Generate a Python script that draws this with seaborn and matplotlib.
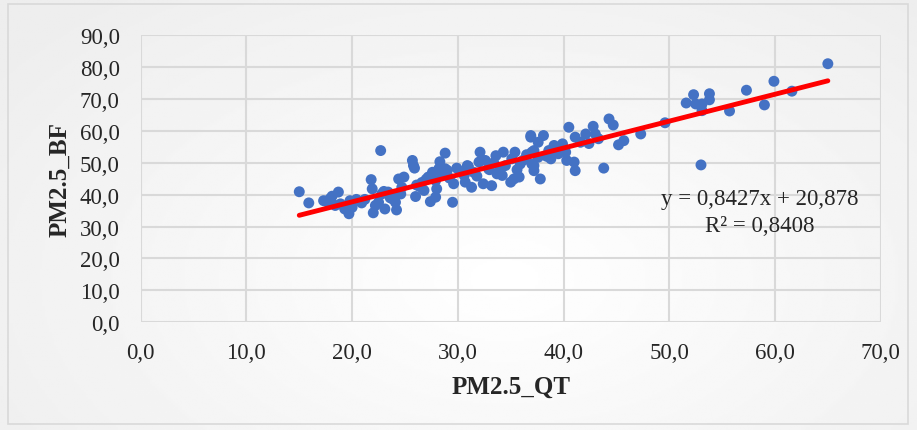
import numpy as np
import pandas as pd
import matplotlib
matplotlib.use("Agg")
import matplotlib.pyplot as plt
import seaborn as sns

# Data
pm_qt = [15.0, 15.9, 17.3, 17.9, 18.7, 18.4, 18.9, 19.3, 19.7, 19.8, 20.0, 20.9,
         21.8, 21.9, 22.2, 22.0, 22.5, 22.7, 22.8, 23.1, 23.4, 23.8, 24.1, 24.2,
         24.4, 24.9, 24.7, 24.6, 25.8, 25.7, 25.9, 26.0, 28.3, 28.2, 27.6, 28.8,
         27.2, 27.9, 26.8, 28.0, 26.1, 27.4, 27.9, 29.5, 29.6, 29.9, 30.6, 30.9,
         30.7, 31.3, 31.5, 32.0, 32.1, 32.6, 32.4, 33.2, 32.9, 33.6, 34.3, 33.7,
         34.2, 34.5, 35.1, 35.4, 35.0, 35.8, 35.3, 35.9, 36.9, 37.0, 37.2, 28.8,
         37.8, 36.9, 38.1, 37.6, 37.2, 37.6, 37.0, 37.2, 38.8, 39.1, 39.9, 39.1,
         40.2, 39.5, 40.3, 41.0, 41.1, 40.5, 41.1, 41.6, 42.1, 42.8, 43.0, 43.3,
         43.8, 44.3, 44.7, 45.2, 45.7, 47.3, 49.6, 51.6, 52.3, 52.5, 53.1, 53.8,
         53.8, 53.1, 53.0, 55.7, 57.3, 59.0, 59.9, 61.6, 65.0, 17.6, 18.1, 21.2,
         23.6, 26.4, 27.0, 28.5, 29.2, 30.3, 31.8, 33.0, 34.0, 36.2, 38.4, 23.0,
         20.4, 24.0, 26.6, 29.0, 31.0, 33.4, 35.6, 36.5, 38.6, 42.4]
pm_bf = [40.9, 37.4, 38.1, 38.7, 40.8, 36.6, 37.1, 35.5, 34.0, 38.1, 36.0, 37.4,
         44.7, 41.8, 36.6, 34.3, 37.6, 53.8, 40.2, 35.5, 40.8, 38.7, 37.6, 35.2,
         44.9, 45.5, 42.3, 40.2, 49.1, 50.7, 48.3, 39.4, 50.3, 48.1, 47.0, 48.1,
         45.5, 44.4, 41.3, 41.8, 43.0, 37.8, 39.2, 37.6, 43.4, 48.3, 46.0, 49.1,
         43.9, 42.3, 47.0, 50.2, 53.3, 50.7, 43.4, 42.8, 48.1, 52.2, 53.3, 46.5,
         46.0, 49.1, 51.2, 53.3, 43.9, 45.5, 44.9, 49.6, 58.5, 53.3, 49.1, 53.0,
         44.9, 58.0, 58.5, 56.4, 53.8, 51.7, 49.6, 47.5, 51.2, 54.3, 55.9, 55.4,
         53.3, 52.8, 50.7, 50.2, 47.5, 61.1, 58.0, 56.4, 59.0, 61.4, 59.0, 57.5,
         48.3, 63.7, 61.8, 55.6, 56.9, 59.0, 62.5, 68.7, 71.3, 68.4, 68.4, 71.6,
         69.7, 66.3, 49.3, 66.2, 72.7, 68.1, 75.5, 72.4, 81.0, 37.8, 39.5, 38.5,
         39.0, 42.5, 44.8, 46.5, 45.2, 47.2, 45.8, 47.8, 48.5, 50.8, 52.0, 41.0,
         38.5, 39.8, 43.8, 47.6, 48.8, 50.0, 47.8, 52.5, 53.8, 56.0]

slope = 0.8427
intercept = 20.878
eq_lines = ["y = 0,8427x + 20,878", "R² = 0,8408"]
x_ticks = [0, 10, 20, 30, 40, 50, 60, 70]
y_ticks = [0, 10, 20, 30, 40, 50, 60, 70, 80, 90]

df = pd.DataFrame({"PM2.5_QT": pm_qt, "PM2.5_BF": pm_bf})

sns.set_theme(style="white")
plt.rcParams['font.family'] = ['Liberation Serif', 'DejaVu Serif']

W, H = 917, 431
fig = plt.figure(figsize=(W / 100, H / 100), dpi=100)

# background gradient
bg = fig.add_axes([0, 0, 1, 1], zorder=-10)
yy, xx = np.mgrid[0:1:200j, 0:1:400j]
d = np.sqrt((xx - 0.55) ** 2 + ((yy - 0.65) * 0.8) ** 2)
img = 1.0 - 0.07 * np.clip(d / 0.7, 0, 1)
bg.imshow(img, cmap="gray", vmin=0, vmax=1, aspect="auto", extent=[0, 1, 0, 1])
bg.add_patch(plt.Rectangle((8 / W, 1 - 425 / H), 900 / W, 420 / H, fill=False,
                           edgecolor="#d9d9d9", linewidth=1.2, transform=bg.transAxes))
bg.set_axis_off()

ax = fig.add_axes([140.7 / W, 1 - 323.3 / H, 740 / W, 287.3 / H])
ax.set_facecolor("none")

sns.scatterplot(data=df, x="PM2.5_QT", y="PM2.5_BF", ax=ax, color="#4472C4",
                s=62, edgecolor="none", zorder=3, legend=False)

xl = np.array([min(pm_qt), max(pm_qt)])
ax.plot(xl, slope * xl + intercept, color="#FF0000", linewidth=3.5,
        solid_capstyle="round", zorder=4)

ax.set_xlim(0, 70)
ax.set_ylim(0, 90)
ax.set_xticks(x_ticks)
ax.set_yticks(y_ticks)
ax.set_xticklabels([f"{v:.1f}".replace(".", ",") for v in x_ticks], fontsize=16.5)
ax.set_yticklabels([f"{v:.1f}".replace(".", ",") for v in y_ticks], fontsize=16.5)
ax.tick_params(axis="x", length=0, pad=14, colors="#262626")
ax.tick_params(axis="y", length=0, pad=15, colors="#262626")
ax.grid(True, color="#d9d9d9", linewidth=1.5, zorder=0)
ax.set_axisbelow(True)
for s in ax.spines.values():
    s.set_visible(False)

ax.set_xlabel("PM2.5_QT", fontsize=18, fontweight="bold", labelpad=9)
ax.set_ylabel("PM2.5_BF", fontsize=18, fontweight="bold", labelpad=6)

ax.text(58.55, 38.7, eq_lines[0], fontsize=16.5, ha="center", va="center",
        color="#262626", zorder=5)
ax.text(58.55, 30.2, eq_lines[1], fontsize=16.5, ha="center", va="center",
        color="#262626", zorder=5)

fig.savefig("out.png", dpi=100)
